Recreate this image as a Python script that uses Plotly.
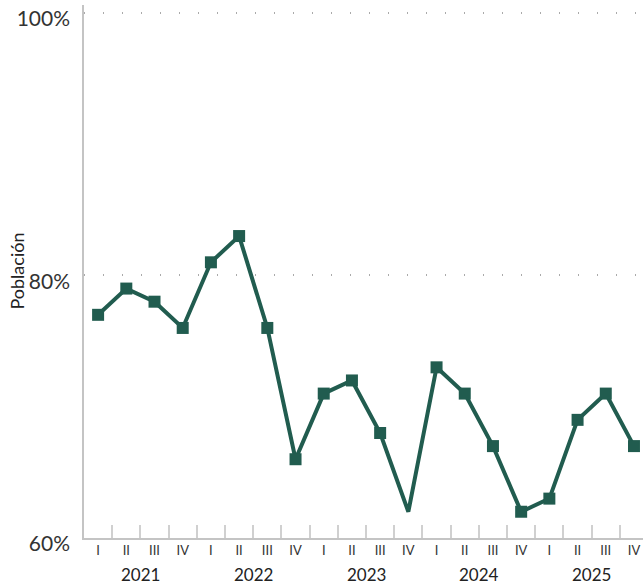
import plotly.graph_objects as go

# quarterly values (% of population)
years = ['2021', '2022', '2023', '2024', '2025']
quarters = ['I', 'II', 'III', 'IV']
values = [77, 79, 78, 76,
          81, 83, 76, 66,
          71, 72, 68, 62,
          73, 71, 67, 62,
          63, 69, 71, 67]
# the 2023 IV point is drawn without a marker in the original
marker_shown = [1] * 11 + [0] + [1] * 8

x = list(range(len(values)))
tick_text = quarters * len(years)
color = '#215c4f'

trace = go.Scatter(
    x=x, y=values, mode='lines+markers',
    line={'color': color, 'width': 4},
    marker={'symbol': 'square', 'size': [12 if m else 0 for m in marker_shown],
            'color': color, 'opacity': 1, 'line': {'width': 0}},
    showlegend=False, hoverinfo='skip',
)

annotations = [
    dict(x=i * 4 + 1.5, y=0, xref='x', yref='paper', yshift=-36, text=yr,
         showarrow=False, font={'size': 17, 'color': '#222'}, yanchor='middle')
    for i, yr in enumerate(years)
]
# y axis title, placed by hand to sit close to the tick labels
annotations.append(dict(x=0, y=0.5, xref='paper', yref='paper', xshift=-68, text='Población',
                        xanchor='center', yanchor='middle', textangle=-90, showarrow=False,
                        font={'size': 18, 'color': '#222'}))

layout = go.Layout(
    width=643, height=584,
    margin={'l': 84, 'r': 0, 't': 5, 'b': 46, 'autoexpand': False},
    paper_bgcolor='white', plot_bgcolor='white',
    font={'family': 'Lato, Noto Sans, sans-serif', 'color': '#333'},
    xaxis={
        'range': [-0.5, 19.32],
        'tickvals': x, 'ticktext': tick_text,
        'tickfont': {'size': 13}, 'ticks': '',
        'showgrid': False, 'zeroline': False, 'automargin': False,
        'showline': True, 'linecolor': '#c4c4c4', 'linewidth': 1.5,
        'minor': {'tickvals': [i + 0.5 for i in x], 'ticks': 'inside', 'ticklen': 13,
                  'tickcolor': '#d0d0d0', 'tickwidth': 1.5, 'showgrid': False},
    },
    yaxis={
        'range': [60, 100.6],
        'tickvals': [60, 80, 100], 'ticktext': ['60%', '80%', '100%'],
        'tickfont': {'size': 21, 'color': '#333'}, 'ticklabelshift': 6,
        'ticks': '', 'ticklabelstandoff': 8,
        'showgrid': True, 'gridcolor': '#aaaaaa', 'griddash': '1px,18px', 'gridwidth': 1.5,
        'zeroline': False, 'automargin': False,
        'showline': True, 'linecolor': '#c4c4c4', 'linewidth': 1.5,
    },
    annotations=annotations,
)

fig = go.Figure(data=[trace], layout=layout)
fig.write_html('out.html', config={'displayModeBar': False},
               post_script="document.body.style.margin='0';")
